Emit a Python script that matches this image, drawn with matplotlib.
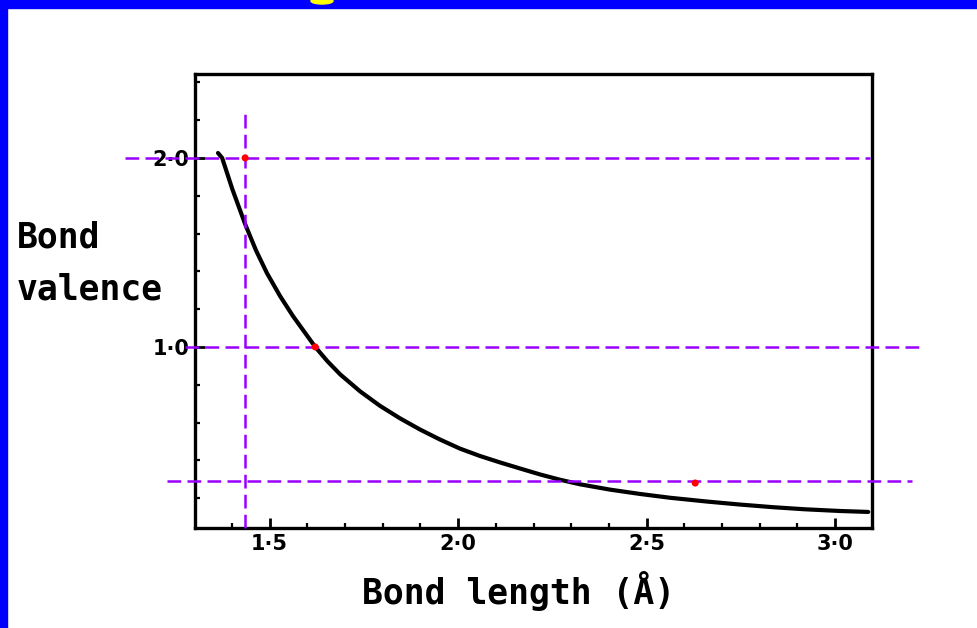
import matplotlib
matplotlib.use("Agg")
import matplotlib.pyplot as plt
from matplotlib.patches import Rectangle, Ellipse
from matplotlib.ticker import MultipleLocator

# Curve: bond length (Å) vs bond valence
bond_length = [1.363, 1.374, 1.401, 1.435, 1.464, 1.493, 1.528, 1.562, 1.592,
               1.621, 1.653, 1.687, 1.740, 1.793, 1.846, 1.899, 1.952, 2.005,
               2.058, 2.111, 2.164, 2.218, 2.271, 2.324, 2.403, 2.483, 2.562,
               2.660, 2.748, 2.836, 2.920, 3.013, 3.088]
bond_valence = [2.026, 2.000, 1.835, 1.650, 1.510, 1.390, 1.268, 1.163, 1.080,
                1.000, 0.925, 0.855, 0.765, 0.688, 0.622, 0.563, 0.510, 0.462,
                0.423, 0.389, 0.357, 0.325, 0.297, 0.273, 0.245, 0.222, 0.202,
                0.182, 0.166, 0.152, 0.141, 0.132, 0.127]

# Highlighted points
point_length = [1.435, 1.621, 2.629]
point_valence = [2.000, 1.000, 0.280]

# Guide lines (value, start, end)
h_guides = [(2.000, 1.117, 3.093), (1.000, 1.276, 3.225), (0.291, 1.228, 3.204)]
v_guides = [(1.435, 0.042, 2.243)]

x_ticks = [1.5, 2.0, 2.5, 3.0]
x_tick_labels = ["1·5", "2·0", "2·5", "3·0"]
y_ticks = [1.0, 2.0]
y_tick_labels = ["1·0", "2·0"]

W, H = 978, 628
fig = plt.figure(figsize=(W / 100, H / 100), dpi=100)
fig.patch.set_facecolor("white")

# Blue frame (top and left bands)
fig.patches.append(Rectangle((0, 1 - 8 / H), 1, 8 / H, transform=fig.transFigure,
                             color="#0000FF", zorder=0))
fig.patches.append(Rectangle((0, 0), 7 / W, 1, transform=fig.transFigure,
                             color="#0000FF", zorder=0))
# Tiny cut-off yellow fragment of the title at the top edge
fig.patches.append(Ellipse((322 / W, 1 - 1 / H), 22 / W, 6 / H, transform=fig.transFigure,
                           color="#FFFF00", zorder=1))

ax = fig.add_axes([195 / W, 1 - 528 / H, (872 - 195) / W, (528 - 74) / H])
ax.set_xlim(1.302, 3.098)
ax.set_ylim(0.042, 2.444)

ax.plot(bond_length, bond_valence, color="black", lw=3.0, solid_capstyle="round",
        solid_joinstyle="round", zorder=3)

purple = "#9900FF"
for v, a, b in h_guides:
    ax.plot([a, b], [v, v], color=purple, lw=1.8, dashes=(5.5, 2.5), clip_on=False, zorder=4)
for r, a, b in v_guides:
    ax.plot([r, r], [a, b], color=purple, lw=1.8, dashes=(5.5, 2.5), clip_on=False, zorder=4)

ax.scatter(point_length, point_valence, s=26, color="#FF0000", zorder=5, clip_on=False,
           edgecolors="none")

for s in ax.spines.values():
    s.set_linewidth(2.4)
    s.set_color("black")

ax.set_xticks(x_ticks)
ax.set_xticklabels(x_tick_labels)
ax.set_yticks(y_ticks)
ax.set_yticklabels(y_tick_labels)
ax.xaxis.set_minor_locator(MultipleLocator(0.1))
ax.yaxis.set_minor_locator(MultipleLocator(0.2))
ax.tick_params(axis="both", which="major", direction="in", length=7, width=2,
               labelsize=15, pad=4, top=False, right=False)
ax.tick_params(axis="both", which="minor", direction="in", length=3.5, width=1.6,
               top=False, right=False)
for lab in ax.get_xticklabels() + ax.get_yticklabels():
    lab.set_fontweight("bold")
    lab.set_family("DejaVu Sans")

lab_font = dict(family="DejaVu Sans Mono", fontweight="bold", fontsize=25, color="black")
fig.text(17 / W, 1 - 248 / H, "Bond", ha="left", va="baseline", **lab_font)
fig.text(17 / W, 1 - 299 / H, "valence", ha="left", va="baseline", **lab_font)
fig.text(519 / W, 1 - 604 / H, "Bond length (Å)", ha="center", va="baseline", **lab_font)

fig.savefig("out.png", dpi=100, facecolor="white")
